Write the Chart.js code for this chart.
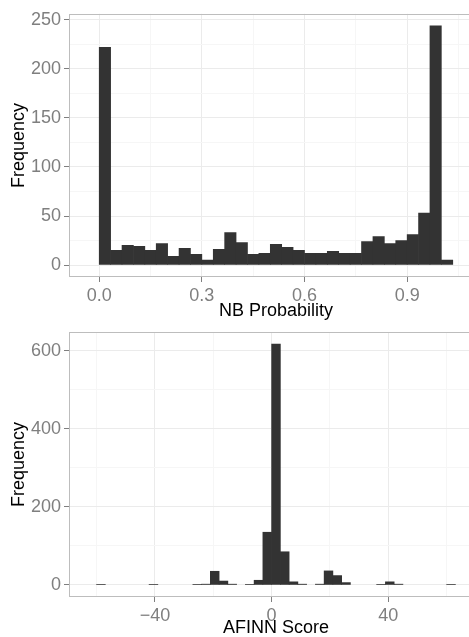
<!DOCTYPE html>
<html><head><meta charset="utf-8">
<script src="https://cdn.jsdelivr.net/npm/chart.js@4.4.0/dist/chart.umd.min.js"></script>
<style>
html,body{margin:0;padding:0;background:#fff;overflow:hidden;width:469px;height:637px;position:relative}
canvas{position:absolute;left:0}
#c1{top:0}
#c2{top:318px}
</style></head><body>
<canvas id="c1" width="483" height="330"></canvas>
<canvas id="c2" width="483" height="319"></canvas>
<script>
// ---- NB Probability histogram ----
const nbBinCenters = [0.0167,0.05,0.0833,0.1167,0.15,0.1833,0.2167,0.25,0.2833,0.3167,0.35,0.3833,0.4167,0.45,0.4833,0.5167,0.55,0.5833,0.6167,0.65,0.6833,0.7167,0.75,0.7833,0.8167,0.85,0.8833,0.9167,0.95,0.9833,1.0167];
const nbCounts = [222,15,20,19,15,22,9,17,11,5,16,33,23,11,12,21,18,15,12,12,14,12,12,24,29,22,25,31,53,244,5];
const nbXTicks = [0, 0.3, 0.6, 0.9];
const nbXLabels = ['0.0','0.3','0.6','0.9'];
const nbXMinor = [0.15, 0.45, 0.75, 1.05];
const nbYTicks = [0, 50, 100, 150, 200, 250];
const nbYLabels = ['0','50','100','150','200','250'];
const nbYMinor = [25, 75, 125, 175, 225];

// ---- AFINN Score histogram ----
const afBinCenters = [-58.5,-55.5,-52.5,-49.5,-46.5,-43.5,-40.5,-37.5,-34.5,-31.5,-28.5,-25.5,-22.5,-19.5,-16.5,-13.5,-10.5,-7.5,-4.5,-1.5,1.5,4.5,7.5,10.5,13.5,16.5,19.5,22.5,25.5,28.5,31.5,34.5,37.5,40.5,43.5,46.5,49.5,52.5,55.5,58.5,61.5];
const afCounts = [1,0,0,0,0,0,1,0,0,0,0,1,2,35,10,2,0,1,12,135,617,85,8,2,0,2,36,24,6,0,0,0,1,8,2,0,0,0,0,0,1];
const afXTicks = [-40, 0, 40];
const afXLabels = ['\u221240','0','40'];
const afXMinor = [-60, -20, 20, 60];
const afYTicks = [0, 200, 400, 600];
const afYLabels = ['0','200','400','600'];
const afYMinor = [100, 300, 500];

const FONT = "'Liberation Sans', Arial, Helvetica, sans-serif";
const TICK_COLOR = '#7f7f7f';
const MAJOR_GRID = '#ebebeb';
const MINOR_GRID = '#f6f6f6';
const BORDER = '#bdbdbd';
const BAR = '#333333';

const panelBorder = {
  id: 'panelBorder',
  afterDatasetsDraw(chart) {
    const {ctx, chartArea: a} = chart;
    ctx.save();
    ctx.strokeStyle = BORDER;
    ctx.lineWidth = 1;
    ctx.strokeRect(Math.round(a.left) + 0.5, Math.round(a.top) + 0.5,
                   Math.round(a.right - a.left) - 1, Math.round(a.bottom - a.top) - 1);
    ctx.restore();
  }
};

function axis(major, labels, minor, min, max, fitFn, title, titlePad, titleLH) {
  const isMajor = v => major.some(m => Math.abs(m - v) < 1e-9);
  return {
    type: 'linear', min: min, max: max, offset: false,
    afterBuildTicks: s => {
      s.ticks = major.concat(minor).filter(v => v >= min && v <= max)
        .sort((a, b) => a - b).map(v => ({value: v}));
    },
    afterFit: fitFn,
    ticks: {
      autoSkip: false, maxRotation: 0, minRotation: 0, padding: 3,
      color: TICK_COLOR, font: {family: FONT, size: 18},
      callback: v => {
        const i = major.findIndex(m => Math.abs(m - v) < 1e-9);
        return i >= 0 ? labels[i] : '';
      }
    },
    grid: {
      offset: false, drawTicks: true, tickLength: 5, lineWidth: 1,
      color: c => (c.tick && isMajor(c.tick.value)) ? MAJOR_GRID : MINOR_GRID,
      tickColor: c => (c.tick && isMajor(c.tick.value)) ? TICK_COLOR : 'rgba(0,0,0,0)'
    },
    border: {display: false},
    title: {display: true, text: title, color: '#000000',
            font: {family: FONT, size: 18, lineHeight: titleLH}, padding: titlePad}
  };
}

function makeChart(id, centers, counts, xs, ys, padTop, xHeight, xTitlePad, xTitleLH) {
  return new Chart(document.getElementById(id), {
    type: 'bar',
    data: {
      datasets: [{
        data: centers.map((c, i) => ({x: c, y: counts[i]})),
        backgroundColor: c => (c.raw && c.raw.y > 0) ? BAR : 'rgba(0,0,0,0)',
        borderWidth: 0,
        barPercentage: 1, categoryPercentage: 1, grouped: false
      }]
    },
    options: {
      responsive: false, animation: false, devicePixelRatio: 1,
      layout: {padding: {top: padTop, right: 0, left: 0, bottom: 0}},
      plugins: {legend: {display: false}, tooltip: {enabled: false}, title: {display: false}},
      scales: {
        x: axis(xs.major, xs.labels, xs.minor, xs.min, xs.max,
                s => { s.height = xHeight; }, xs.title, xTitlePad, xTitleLH),
        y: axis(ys.major, ys.labels, ys.minor, ys.min, ys.max,
                s => { s.width = 69; }, 'Frequency', {top: 8, bottom: 0}, 1.2)
      }
    },
    plugins: [panelBorder]
  });
}

makeChart('c1', nbBinCenters, nbCounts,
  {major: nbXTicks, labels: nbXLabels, minor: nbXMinor, min: -0.0883, max: 1.1217, title: 'NB Probability'},
  {major: nbYTicks, labels: nbYLabels, minor: nbYMinor, min: -12.2, max: 256.2},
  11, 53, {top: 0, bottom: 8}, 1.2);

makeChart('c2', afBinCenters, afCounts,
  {major: afXTicks, labels: afXLabels, minor: afXMinor, min: -69.45, max: 72.45, title: 'AFINN Score'},
  {major: afYTicks, labels: afYLabels, minor: afYMinor, min: -30.85, max: 647.85},
  14, 40, {top: 0, bottom: 0}, 1.0);
</script>
</body></html>
